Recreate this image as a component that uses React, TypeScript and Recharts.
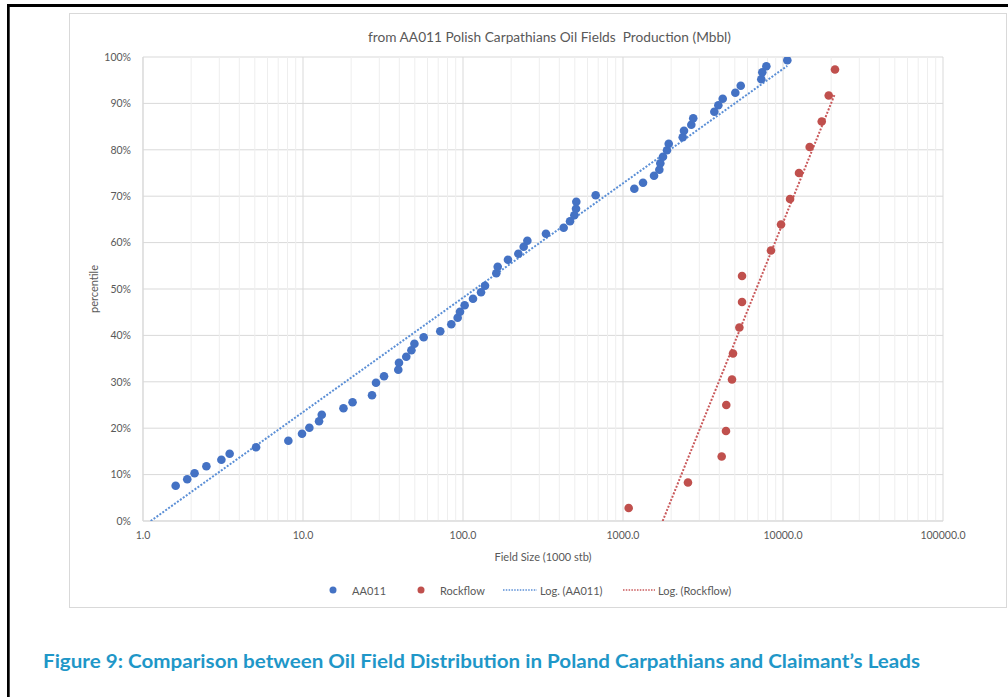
import { ScatterChart, Scatter, XAxis, YAxis, CartesianGrid, ReferenceLine } from 'recharts'

// ---------------------------------------------------------------------------
// Data
// ---------------------------------------------------------------------------

const aa011Size = [
  1.6, 1.89, 2.1, 2.49, 3.09, 3.48, 5.09, 8.1, 9.86, 10.96, 12.6, 13.1, 17.9, 20.4, 27.0, 28.6, 32.1,
  39.4, 39.8, 44.2, 47.6, 49.7, 56.8, 72.1, 84.5, 92.6, 95.8, 102.4, 115.5, 129.6, 137.3, 161.5, 164.8,
  191, 221.8, 239.5, 252.5, 330, 425.7, 466.6, 496.5, 508.6, 510.7, 674.9, 1177, 1334, 1563, 1687, 1711,
  1778, 1884, 1931, 2362, 2405, 2673, 2748, 3723, 3944, 4200, 5035, 5443, 7317, 7423, 7870, 10640,
]
const aa011Pct = [
  7.6, 9.0, 10.3, 11.8, 13.2, 14.5, 15.9, 17.3, 18.8, 20.1, 21.5, 22.9, 24.3, 25.6, 27.1, 29.8, 31.2,
  32.6, 34.1, 35.4, 36.8, 38.2, 39.6, 40.9, 42.4, 43.8, 45.1, 46.5, 47.9, 49.3, 50.7, 53.4, 54.8,
  56.3, 57.6, 59.1, 60.4, 61.9, 63.2, 64.6, 65.9, 67.3, 68.8, 70.2, 71.6, 72.9, 74.4, 75.7, 77.1,
  78.5, 79.9, 81.3, 82.7, 84.1, 85.4, 86.8, 88.2, 89.6, 91.0, 92.3, 93.8, 95.2, 96.7, 98.0, 99.3,
]

const rockSize = [
  1085, 2547, 4138, 4402, 4421, 4800, 4870, 5338, 5546, 5546, 8413, 9723, 11070, 12590, 14680, 17460,
  19310, 21130,
]
const rockPct = [
  2.8, 8.3, 13.9, 19.4, 25.0, 30.5, 36.1, 41.7, 47.2, 52.8, 58.3, 63.9, 69.4, 75.0, 80.6, 86.1, 91.7, 97.3,
]

// trend line end points (log fit, as drawn)
const aa011TrendSize = [1.117, 10640]
const aa011TrendPct = [0, 98.1]
const rockTrendSize = [1770, 21130]
const rockTrendPct = [0, 92.1]

const xTicks = [1, 10, 100, 1000, 10000, 100000]
const yTicks = [0, 10, 20, 30, 40, 50, 60, 70, 80, 90, 100]

// minor log gridlines 2..9 within each decade
const minorTicks: number[] = []
for (let d = 0; d < 5; d++) {
  for (let m = 2; m <= 9; m++) minorTicks.push(m * Math.pow(10, d))
}

const zip = (xs: number[], ys: number[]) => xs.map((x, i) => ({ x, y: ys[i] }))

const aa011Data = zip(aa011Size, aa011Pct)
const rockData = zip(rockSize, rockPct)
const aa011Trend = zip(aa011TrendSize, aa011TrendPct)
const rockTrend = zip(rockTrendSize, rockTrendPct)

const BLUE = '#4472C4'
const RED = '#C0504D'
const TEXT = '#595959'
const FONT = 'Lato, "Open Sans", sans-serif'

const dot = (color: string) => (props: any) => (
  <circle cx={props.cx} cy={props.cy} r={4.3} fill={color} />
)
const noShape = () => <g />

export default function App() {
  return (
    <div style={{ position: 'absolute', left: 0, top: 0, width: 1008, height: 697, background: '#fff', fontFamily: FONT }}>
      <div style={{ position: 'absolute', left: 69, top: 13 }}>
        <ScatterChart width={938} height={595} margin={{ top: 44, right: 64, left: 34, bottom: 67 }}>
          <CartesianGrid stroke="#d9d9d9" vertical horizontal />
          {minorTicks.map((v) => (
            <ReferenceLine key={v} x={v} stroke="#eeeeee" strokeWidth={1} />
          ))}
          <XAxis
            type="number"
            dataKey="x"
            scale="log"
            domain={[1, 100000]}
            ticks={xTicks}
            allowDataOverflow
            tickFormatter={(v: number) => v.toFixed(1)}
            tick={{ fontSize: 10.5, fill: TEXT, fontFamily: FONT }}
            tickLine={false}
            tickSize={0}
            tickMargin={11}
            axisLine={{ stroke: '#d9d9d9' }}
            height={20}
          />
          <YAxis
            type="number"
            dataKey="y"
            domain={[0, 100]}
            ticks={yTicks}
            allowDataOverflow
            tickFormatter={(v: number) => `${v}%`}
            tick={{ fontSize: 10.5, fill: TEXT, fontFamily: FONT }}
            tickLine={false}
            tickSize={0}
            tickMargin={12}
            axisLine={{ stroke: '#d9d9d9' }}
            width={40}
          />
          <Scatter
            data={aa011Trend}
            line={{ stroke: '#5B8FD6', strokeWidth: 2, strokeDasharray: '2 1.6' }}
            shape={noShape}
            isAnimationActive={false}
          />
          <Scatter
            data={rockTrend}
            line={{ stroke: '#C9585A', strokeWidth: 2, strokeDasharray: '2 1.6' }}
            shape={noShape}
            isAnimationActive={false}
          />
          <Scatter data={aa011Data} fill={BLUE} shape={dot(BLUE)} isAnimationActive={false} />
          <Scatter data={rockData} fill={RED} shape={dot(RED)} isAnimationActive={false} />
        </ScatterChart>
      </div>

      <svg width={1008} height={697} style={{ position: 'absolute', left: 0, top: 0, pointerEvents: 'none' }}>
        {/* page frame */}
        <rect x={7} y={4} width={1001} height={3} fill="#000" />
        <rect x={7} y={4} width={2.7} height={693} fill="#000" />
        {/* chart area border */}
        <rect x={69.5} y={13.5} width={937} height={594} fill="none" stroke="#d9d9d9" />

        <text
          x={549.5}
          y={37}
          textAnchor="middle"
          dominantBaseline="central"
          fontSize={13.5}
          fill={TEXT}
          fontFamily={FONT}
          xmlSpace="preserve"
          style={{ whiteSpace: 'pre' }}
          textLength={363}
          lengthAdjust="spacingAndGlyphs"
        >
          from AA011 Polish Carpathians Oil Fields  Production (Mbbl)
        </text>
        <text
          x={93}
          y={289}
          textAnchor="middle"
          dominantBaseline="central"
          fontSize={11}
          fill={TEXT}
          fontFamily={FONT}
          transform="rotate(-90 93 289)"
        >
          percentile
        </text>
        <text x={543} y={556} textAnchor="middle" dominantBaseline="central" fontSize={11} fill={TEXT} fontFamily={FONT}>
          Field Size (1000 stb)
        </text>

        {/* legend */}
        <g fontSize={11} fill={TEXT} fontFamily={FONT}>
          <circle cx={333} cy={590} r={3.5} fill={BLUE} />
          <text x={352} y={590} dominantBaseline="central">AA011</text>
          <circle cx={421} cy={590} r={3.5} fill={RED} />
          <text x={440} y={590} dominantBaseline="central">Rockflow</text>
          <line x1={503} y1={590} x2={537} y2={590} stroke="#5B8FD6" strokeWidth={1.3} strokeDasharray="1.5 1.3" />
          <text x={540} y={590} dominantBaseline="central">Log. (AA011)</text>
          <line x1={623} y1={590} x2={655} y2={590} stroke="#C9585A" strokeWidth={1.3} strokeDasharray="1.5 1.3" />
          <text x={658} y={590} dominantBaseline="central">Log. (Rockflow)</text>
        </g>

        <text
          x={43}
          y={668}
          fontSize={18}
          fontWeight={700}
          fill="#1F97C8"
          fontFamily={FONT}
          textLength={877}
          lengthAdjust="spacingAndGlyphs"
        >
          Figure 9: Comparison between Oil Field Distribution in Poland Carpathians and Claimant’s Leads
        </text>
      </svg>
    </div>
  )
}
